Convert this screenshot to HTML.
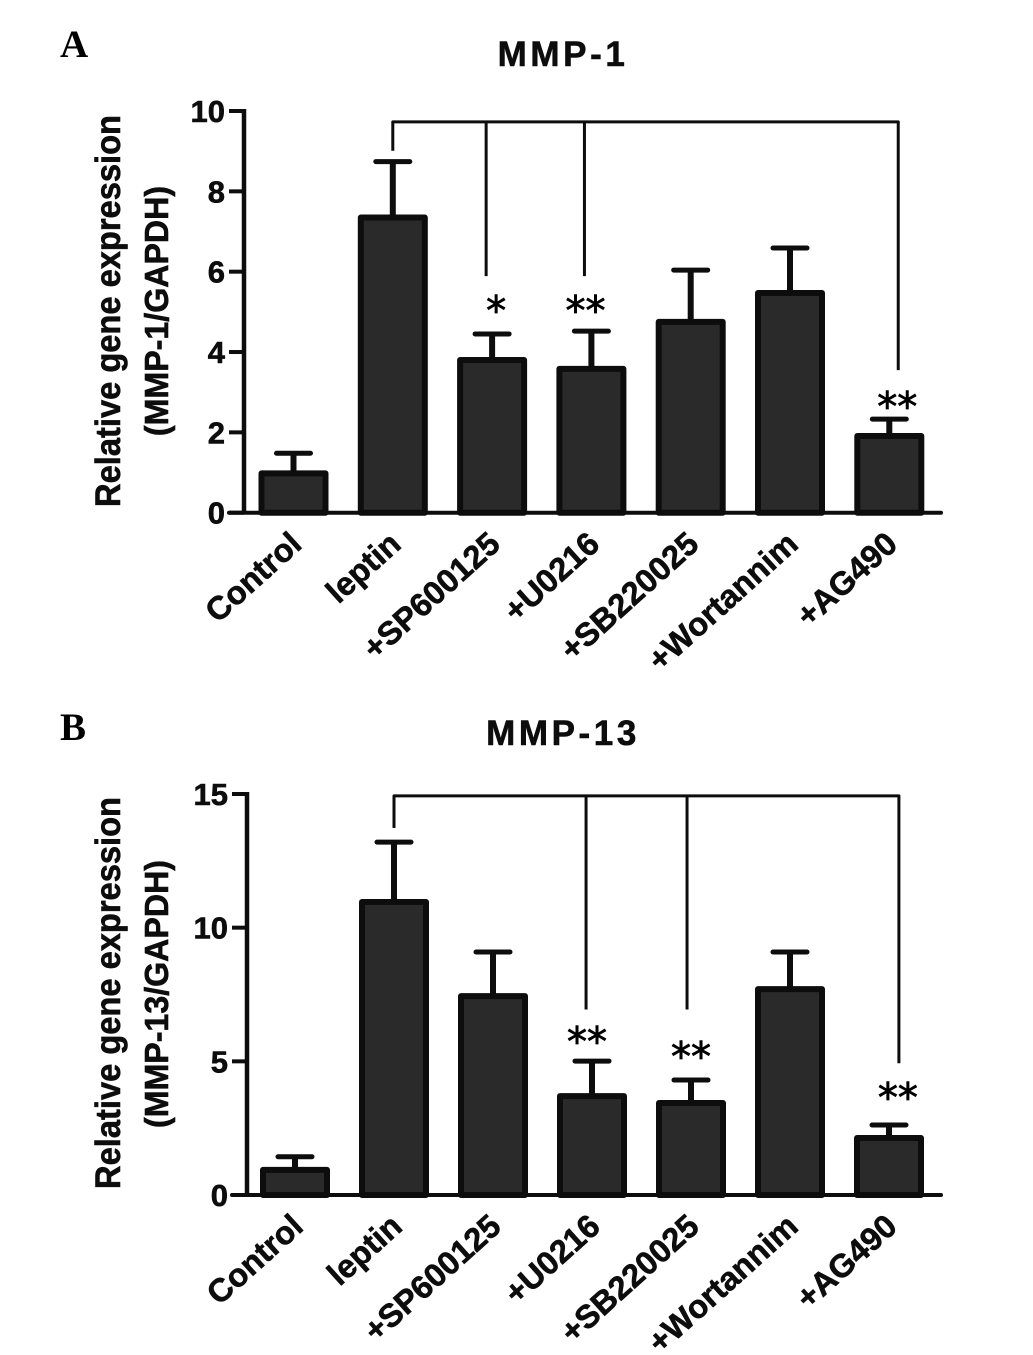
<!DOCTYPE html>
<html lang="en">
<head>
<meta charset="utf-8">
<title>MMP-1 and MMP-13 relative gene expression</title>
<style>
html,body{margin:0;padding:0;background:#fff;width:1033px;height:1355px;overflow:hidden}
svg{display:block}
text{font-family:"Liberation Sans",sans-serif;font-weight:bold;fill:#0d0d0d;stroke:#0d0d0d;stroke-width:.6px}
</style>
</head>
<body>
<svg id="figure" xmlns="http://www.w3.org/2000/svg" width="1033" height="1355" viewBox="0 0 1033 1355">
  <rect width="1033" height="1355" fill="#ffffff"/>
</svg>
<script>
const categories = ['Control', 'leptin', '+SP600125', '+U0216', '+SB220025', '+Wortannim', '+AG490'];

const mmp1Means = [0.98, 7.35, 3.8, 3.58, 4.75, 5.47, 1.91];
const mmp1ErrorTops = [1.48, 8.74, 4.45, 4.52, 6.04, 6.59, 2.33];
const mmp1Ticks = [0, 2, 4, 6, 8, 10];
const mmp1BracketLevel = 9.73;
const mmp1DropCategories = [1, 1.94, 2.93, 6.09];
const mmp1DropEnds = [9.01, 5.89, 5.89, 3.55];
const mmp1StarLabels = ['*', '**', '**'];
const mmp1StarCategories = [2.04, 2.94, 6.08];
const mmp1StarValues = [5.18, 5.18, 2.79];

const mmp13Means = [0.94, 10.96, 7.44, 3.7, 3.44, 7.7, 2.13];
const mmp13ErrorTops = [1.43, 13.2, 9.09, 5.01, 4.3, 9.09, 2.62];
const mmp13Ticks = [0, 5, 10, 15];
const mmp13BracketLevel = 14.93;
const mmp13DropCategories = [1, 2.94, 3.96, 6.1];
const mmp13DropEnds = [13.73, 6.94, 6.94, 4.93];
const mmp13StarLabels = ['**', '**', '**'];
const mmp13StarCategories = [2.95, 4, 6.09];
const mmp13StarValues = [5.96, 5.41, 3.88];

const NS = 'http://www.w3.org/2000/svg';
const svg = document.getElementById('figure');

function make(tag, attrs, text) {
  const el = document.createElementNS(NS, tag);
  for (const k in attrs) el.setAttribute(k, attrs[k]);
  if (text !== undefined) el.textContent = text;
  svg.appendChild(el);
  return el;
}

function drawPanel(p) {
  const xs = i => p.firstX + i * p.stepX;
  const ys = v => p.y0 - (v / p.yMax) * (p.y0 - p.yTop);

  // panel letter
  const letter = make('text', {x: 60, y: p.letterY, style: 'font-family:"Liberation Serif",serif;font-size:39px;fill:#000;stroke:none'}, p.letter);
  
  

  // title
  const title = make('text', {x: p.titleX, y: p.titleY, 'text-anchor': 'middle', 'font-size': 35, 'letter-spacing': 3.6}, p.title);
  
  

  // y axis titles
  const yTitle1 = make('text', {transform: 'translate(' + p.yTitleX1 + ',' + p.yTitleMid + ') rotate(-90) scale(0.92,1)', 'text-anchor': 'middle', 'font-size': 35.5}, 'Relative gene expression');
  
  
  const yTitle2 = make('text', {transform: 'translate(' + p.yTitleX2 + ',' + p.yTitleMid2 + ') rotate(-90) scale(0.975,1)', 'text-anchor': 'middle', 'font-size': 33}, p.yTitle2);
  
  

  // error bars
  p.means.forEach((m, i) => {
    const stem = make('line', {x1: xs(i), x2: xs(i), y1: ys(m), y2: ys(p.tops[i]), stroke: '#0d0d0d', 'stroke-width': 6});
    
    
    const cap = make('line', {x1: xs(i) - 17, x2: xs(i) + 17, y1: ys(p.tops[i]), y2: ys(p.tops[i]), stroke: '#0d0d0d', 'stroke-width': 5, 'stroke-linecap': 'round'});
    
    
  });

  // bars
  p.means.forEach((m, i) => {
    const bar = make('rect', {x: xs(i) - 32, y: ys(m), width: 64, height: p.y0 - ys(m), fill: '#2a2a2a', stroke: '#0d0d0d', 'stroke-width': 6, 'stroke-linejoin': 'round'});
    
    
  });

  // axes
  const yAxis = make('line', {x1: p.axisX, x2: p.axisX, y1: ys(p.yMax) - 2, y2: p.y0, stroke: '#0d0d0d', 'stroke-width': 4.5});
  
  
  const xAxis = make('line', {x1: p.axisX - 15, x2: p.axisEnd, y1: p.y0, y2: p.y0, stroke: '#0d0d0d', 'stroke-width': 4, 'stroke-linecap': 'round'});
  
  

  // y ticks
  p.ticks.forEach(t => {
    const tick = make('line', {x1: p.axisX - 15, x2: p.axisX, y1: ys(t), y2: ys(t), stroke: '#0d0d0d', 'stroke-width': 4});
    
    
    const lab = make('text', {x: p.axisX - 19, y: ys(t) + 11, 'text-anchor': 'end', 'font-size': 31}, String(t));
    
    
  });

  // category labels
  categories.forEach((c, i) => {
    const ax = xs(i) + 10;
    const ay = p.y0 + 34;
    const lab = make('text', {transform: 'translate(' + ax + ',' + ay + ') rotate(-42)', 'text-anchor': 'end', 'font-size': 32.5}, c);
    
    
  });

  // significance bracket
  const lastDrop = p.dropCats.length - 1;
  const bracket = make('line', {x1: xs(p.dropCats[0]), x2: xs(p.dropCats[lastDrop]), y1: ys(p.bracket), y2: ys(p.bracket), stroke: '#0d0d0d', 'stroke-width': 3, 'stroke-linecap': 'round'});
  
  
  p.dropCats.forEach((c, i) => {
    const drop = make('line', {x1: xs(c), x2: xs(c), y1: ys(p.bracket), y2: ys(p.dropEnds[i]), stroke: '#0d0d0d', 'stroke-width': 3});
    
    
  });

  // stars
  p.starLabels.forEach((s, i) => {
    const star = make('text', {x: xs(p.starCats[i]), y: ys(p.starVals[i]) + 20, 'text-anchor': 'middle', style: 'font-family:"DejaVu Sans",sans-serif;font-weight:normal;font-size:40px;fill:#000;stroke:#000;stroke-width:.8px'}, s);
    
    
  });
}

drawPanel({
  id: 'mmp1', letter: 'A', letterY: 57, title: 'MMP-1', titleX: 563, titleY: 66,
  yTitle2: '(MMP-1/GAPDH)', yTitleX1: 120, yTitleX2: 168, yTitleMid: 311, yTitleMid2: 311,
  firstX: 293.5, stepX: 99.3, y0: 512.7, yTop: 111, yMax: 10, axisX: 244, axisEnd: 941,
  means: mmp1Means, tops: mmp1ErrorTops, ticks: mmp1Ticks, bracket: mmp1BracketLevel,
  dropCats: mmp1DropCategories, dropEnds: mmp1DropEnds,
  starLabels: mmp1StarLabels, starCats: mmp1StarCategories, starVals: mmp1StarValues
});

drawPanel({
  id: 'mmp13', letter: 'B', letterY: 740, title: 'MMP-13', titleX: 563, titleY: 745,
  yTitle2: '(MMP-13/GAPDH)', yTitleX1: 120, yTitleX2: 168, yTitleMid: 993, yTitleMid2: 994,
  firstX: 295, stepX: 99, y0: 1195, yTop: 794, yMax: 15, axisX: 247, axisEnd: 941,
  means: mmp13Means, tops: mmp13ErrorTops, ticks: mmp13Ticks, bracket: mmp13BracketLevel,
  dropCats: mmp13DropCategories, dropEnds: mmp13DropEnds,
  starLabels: mmp13StarLabels, starCats: mmp13StarCategories, starVals: mmp13StarValues
});
</script>
</body>
</html>
